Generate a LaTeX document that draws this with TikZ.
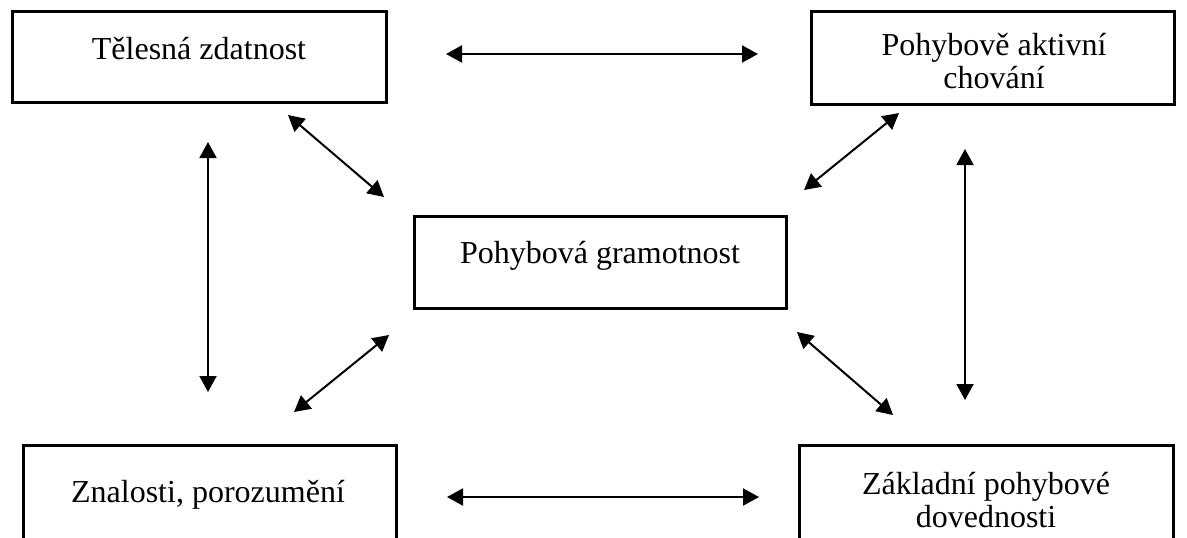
\documentclass[tikz,border=0pt]{standalone}
\usepackage{fontspec}
\setmainfont{Liberation Serif}
\usetikzlibrary{arrows.meta}
\tikzset{
  box/.style={draw, line width=1.5pt, inner sep=0pt},
  lbl/.style={font=\fontsize{16}{16.5}\selectfont, inner sep=0pt, align=center},
  arr/.style={{Triangle[length=8pt,width=8.5pt]}-{Triangle[length=8pt,width=8.5pt]}, line width=1pt}
}
\begin{document}
\begin{tikzpicture}[x=0.5pt,y=-0.5pt]
\clip (0,0) rectangle (1187,537);
\fill[white] (0,0) rectangle (1187,537);
% boxes
\node[box, minimum width=187pt, minimum height=45.5pt] (tz) at (199,56.5) {};
\node[box, minimum width=181.5pt, minimum height=46.5pt] (pac) at (992.5,57.5) {};
\node[box, minimum width=186pt, minimum height=46pt] (pg) at (600,262) {};
\node[box, minimum width=186.5pt, minimum height=50pt] (zp) at (209.5,495) {};
\node[box, minimum width=187pt, minimum height=50pt] (zpd) at (986,495) {};
% labels (base = baseline of the last line)
\node[lbl, anchor=base] (tzt) at (199,59) {Tělesná zdatnost};
\node[lbl, anchor=base] (pact) at (994,88) {Pohybově aktivní\\chování};
\node[lbl, anchor=base] (pgt) at (600,263) {Pohybová gramotnost};
\node[lbl, anchor=base] (zpt) at (208,502) {Znalosti, porozumění};
\node[lbl, anchor=base] (zpdt) at (986,527) {Základní pohybové\\dovednosti};
% arrow end points
\coordinate (t1) at (446,54);  \coordinate (t2) at (758,54);
\coordinate (b1) at (447,497); \coordinate (b2) at (759,497);
\coordinate (l1) at (208,142); \coordinate (l2) at (208,392);
\coordinate (r1) at (965,149); \coordinate (r2) at (965,400);
\coordinate (d1a) at (288,115); \coordinate (d1b) at (384,197);
\coordinate (d2a) at (389,335); \coordinate (d2b) at (294,412);
\coordinate (d3a) at (899,113); \coordinate (d3b) at (804,190);
\coordinate (d4a) at (797,332); \coordinate (d4b) at (893,415);
% arrows
\draw[arr] (t1) -- (t2);
\draw[arr] (b1) -- (b2);
\draw[arr] (l1) -- (l2);
\draw[arr] (r1) -- (r2);
\draw[arr] (d1a) -- (d1b);
\draw[arr] (d2a) -- (d2b);
\draw[arr] (d3a) -- (d3b);
\draw[arr] (d4a) -- (d4b);
\end{tikzpicture}
\end{document}
